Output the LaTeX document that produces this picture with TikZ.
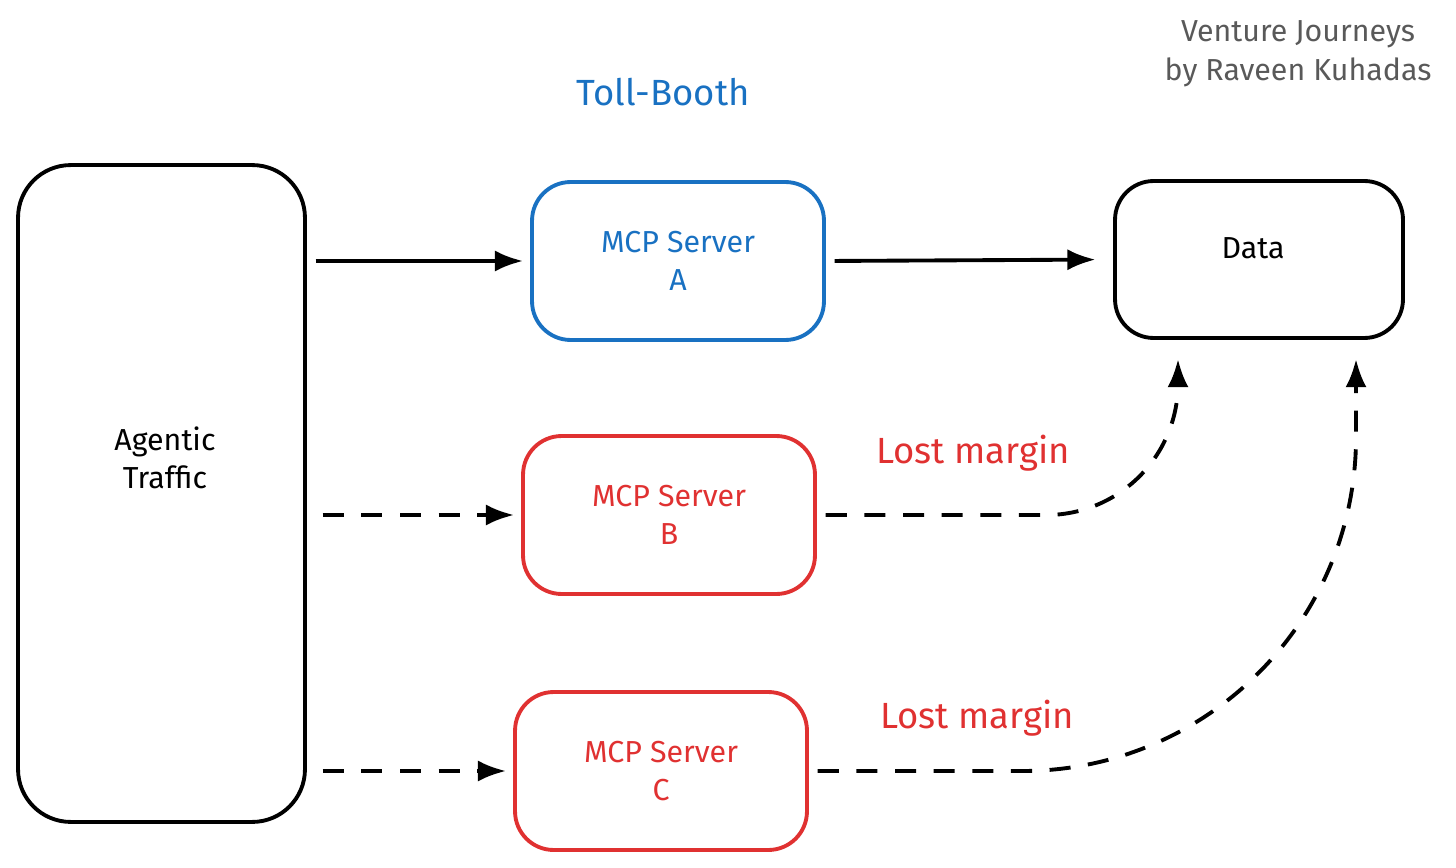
\documentclass[tikz,border=0pt]{standalone}
\usepackage{fontspec}
\setmainfont{Fira Sans}
\usetikzlibrary{arrows.meta,positioning,calc}
\definecolor{tollblue}{HTML}{1971C2}
\definecolor{lossred}{HTML}{E03131}
\tikzset{
  box/.style={draw,line width=2.2pt,rounded corners=22pt,minimum width=5.84cm,minimum height=3.16cm,align=center,font=\LARGE},
  flow/.style={-{Latex[length=16pt,width=12pt]},line width=2.2pt},
  lost/.style={flow,dash pattern=on 12pt off 10pt},
}
\begin{document}
\begin{tikzpicture}[x=0.02cm,y=-0.02cm]
\useasboundingbox (0,0) rectangle (1456,868);
\node[box,minimum width=5.74cm,minimum height=13.14cm,rounded corners=30pt] (ag) at (161.5,493.5) {};
\node[font=\LARGE,align=center] (agtext) at (165,458) {Agentic\\Traffic};
\node[box,draw=tollblue,text=tollblue] (a) at (678,261) {MCP Server\\A};
\node[box,draw=lossred,text=lossred] (b) at (669,515) {MCP Server\\B};
\node[box,draw=lossred,text=lossred] (c) at (661,771) {MCP Server\\C};
\node[box,minimum width=5.76cm,minimum height=3.14cm] (data) at (1259,259.5) {};
\node[font=\LARGE] (datatext) at (1253,248) {Data};
\node[text=tollblue,font=\huge] (title) at (663,92) {Toll-Booth};
\node[text=black!65,font=\LARGE,align=center] (credit) at (1298,54) {Venture Journeys\\by Raveen Kuhadas};
\node[text=lossred,font=\huge] (lossb) at (973,453) {Lost margin};
\node[text=lossred,font=\huge] (lossc) at (977,718) {Lost margin};
\coordinate (db) at (1178,338);
\coordinate (dc) at (1356,338);
% arrows
\draw[flow,shorten <=5pt,shorten >=4pt] (ag.east |- a.west) -- (a.west);
\draw[flow,shorten <=5pt,shorten >=10pt] (a.east) -- (data.west);
\draw[lost,shorten <=9pt,shorten >=4pt] (ag.east |- b.west) -- (b.west);
\draw[lost,shorten <=9pt,shorten >=4pt] (ag.east |- c.west) -- (c.west);
\draw[lost,shorten <=5pt,shorten >=12pt,rounded corners=75pt] (b.east) -- (db |- b.east) -- (db);
\draw[lost,shorten <=5pt,shorten >=12pt,rounded corners=190pt] (c.east) -- (dc |- c.east) -- (dc);
\end{tikzpicture}
\end{document}
